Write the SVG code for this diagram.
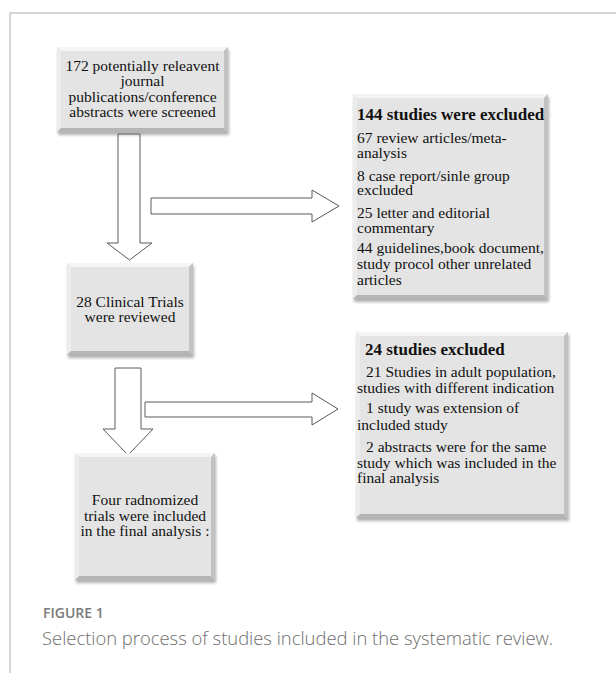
<svg xmlns="http://www.w3.org/2000/svg" width="616" height="673" viewBox="0 0 616 673">
<defs>
<filter id="sh" x="-10%" y="-10%" width="130%" height="130%"><feGaussianBlur stdDeviation="1.5"/></filter>
</defs>
<style>
.bg{fill:#ffffff}
.frame{fill:none;stroke:#c9c9c9;stroke-width:1.5}
.shadow{fill:#6f6f6f;opacity:0.55;filter:url(#sh)}
.face{fill:#e4e4e4}
.bt{fill:#f4f4f4}
.bl{fill:#ececec}
.br{fill:#c2c2c2}
.bb{fill:#b5b5b5}
.t{font-family:"Liberation Serif","Times New Roman",serif;font-size:15.5px;fill:#111111}
.c{text-anchor:middle}
.h{font-weight:bold;font-size:17px}
.arrow{fill:#ffffff;stroke:#5a5a5a;stroke-width:1}
.figlabel{font-family:"Open Sans","Noto Sans",sans-serif;font-size:14px;font-weight:600;fill:#7a7a7a}
.caption{font-family:"Open Sans","Noto Sans",sans-serif;font-size:18.4px;font-weight:300;fill:#6e6e6e}
</style>
<rect class="bg" x="0" y="0" width="616" height="673"/>
<path class="frame" d="M616,13 H10 V673"/>

<g id="connectors">
<polygon class="arrow" points="118,134 140,134 140,243 152,243 129.5,260 107,243 118,243"/>
<polygon class="arrow" points="151,198 312,198 312,190 339,206 312,222 312,214 151,214"/>
<polygon class="arrow" points="115,368 141,368 141,429 153,429 128,455 103,429 115,429"/>
<polygon class="arrow" points="145,402 312,402 312,393 338,409 312,425 312,417 145,417"/>
</g>

<g id="node-screened">
<rect class="shadow" x="58" y="50" width="171" height="85"/>
<rect class="face" x="57" y="47" width="171" height="85"/>
<polygon class="bt" points="57,47 228,47 224,51 61,51"/>
<polygon class="bl" points="57,47 61,51 61,128 57,132"/>
<polygon class="br" points="228,47 228,132 224,128 224,51"/>
<polygon class="bb" points="57,132 228,132 224,128 61,128"/>
<text class="t c" x="142.5" y="71">172 potentially releavent</text>
<text class="t c" x="142.5" y="86.3">journal</text>
<text class="t c" x="142.5" y="101.6">publications/conference</text>
<text class="t c" x="142.5" y="117">abstracts were screened</text>
</g>

<g id="node-reviewed">
<rect class="shadow" x="68" y="266" width="126" height="92"/>
<rect class="face" x="67" y="263" width="126" height="92"/>
<polygon class="bt" points="67,263 193,263 189,267 71,267"/>
<polygon class="bl" points="67,263 71,267 71,351 67,355"/>
<polygon class="br" points="193,263 193,355 189,351 189,267"/>
<polygon class="bb" points="67,355 193,355 189,351 71,351"/>
<text class="t c" x="130" y="307">28 Clinical Trials</text>
<text class="t c" x="130" y="322">were reviewed</text>
</g>

<g id="node-excluded-144">
<rect class="shadow" x="354" y="97" width="195" height="205"/>
<rect class="face" x="353" y="94" width="195" height="205"/>
<polygon class="bt" points="353,94 548,94 544,98 357,98"/>
<polygon class="bl" points="353,94 357,98 357,295 353,299"/>
<polygon class="br" points="548,94 548,299 544,295 544,98"/>
<polygon class="bb" points="353,299 548,299 544,295 357,295"/>
<text class="t h" x="357" y="120">144 studies were excluded</text>
<text class="t" x="357" y="143">67 review articles/meta-</text>
<text class="t" x="357" y="158">analysis</text>
<text class="t" x="357" y="181">8 case report/sinle group</text>
<text class="t" x="357" y="195">excluded</text>
<text class="t" x="357" y="218">25 letter and editorial</text>
<text class="t" x="357" y="233">commentary</text>
<text class="t" x="357" y="253">44 guidelines,book document,</text>
<text class="t" x="357" y="269">study procol other unrelated</text>
<text class="t" x="357" y="285">articles</text>
</g>

<g id="node-excluded-24">
<rect class="shadow" x="357" y="335" width="212" height="186"/>
<rect class="face" x="356" y="332" width="212" height="186"/>
<polygon class="bt" points="356,332 568,332 564,336 360,336"/>
<polygon class="bl" points="356,332 360,336 360,514 356,518"/>
<polygon class="br" points="568,332 568,518 564,514 564,336"/>
<polygon class="bb" points="356,518 568,518 564,514 360,514"/>
<text class="t h" x="365" y="355">24 studies excluded</text>
<text class="t" x="366" y="377">21 Studies in adult population,</text>
<text class="t" x="357" y="393">studies with different indication</text>
<text class="t" x="366" y="413">1 study was extension of</text>
<text class="t" x="357" y="430">included study</text>
<text class="t" x="366" y="452">2 abstracts were for the same</text>
<text class="t" x="357" y="468">study which was included in the</text>
<text class="t" x="357" y="483">final analysis</text>
</g>

<g id="node-included">
<rect class="shadow" x="76" y="456" width="140" height="127"/>
<rect class="face" x="75" y="453" width="140" height="127"/>
<polygon class="bt" points="75,453 215,453 211,457 79,457"/>
<polygon class="bl" points="75,453 79,457 79,576 75,580"/>
<polygon class="br" points="215,453 215,580 211,576 211,457"/>
<polygon class="bb" points="75,580 215,580 211,576 79,576"/>
<text class="t c" x="145" y="505">Four radnomized</text>
<text class="t c" x="145" y="521">trials were included</text>
<text class="t c" x="145" y="536">in the final analysis :</text>
</g>

<text class="figlabel" x="43" y="618">FIGURE 1</text>
<text class="caption" x="42" y="645">Selection process of studies included in the systematic review.</text>
</svg>
